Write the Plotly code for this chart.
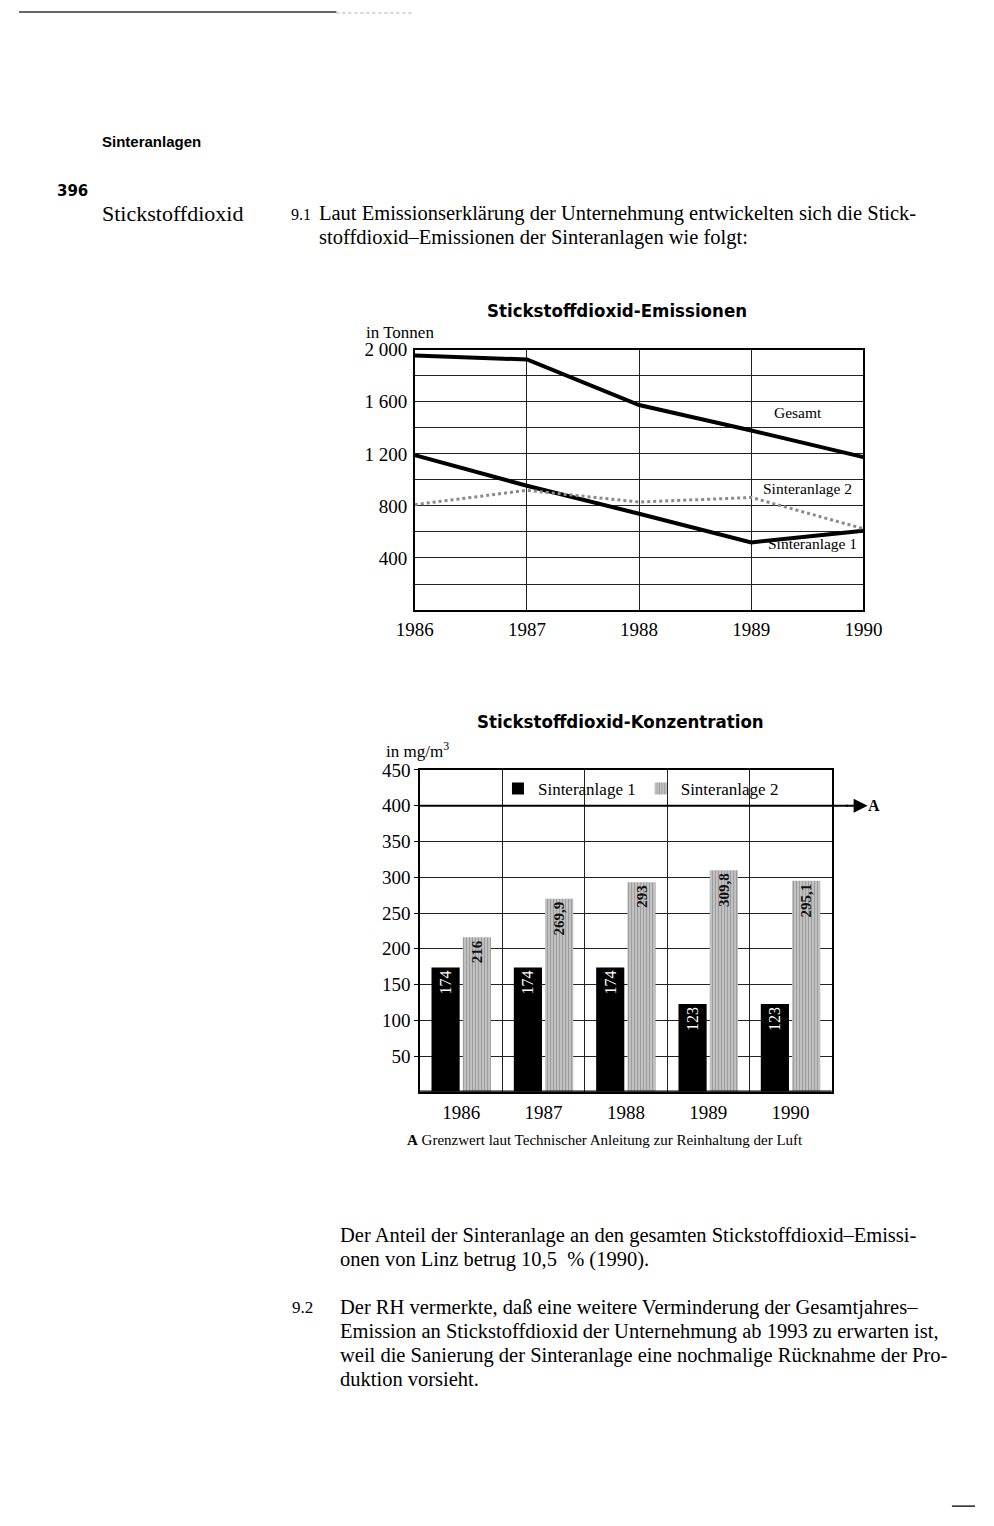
import plotly.graph_objects as go

# ---------------- data ----------------
years = [1986, 1987, 1988, 1989, 1990]
gesamt = [1955, 1925, 1575, 1380, 1175]
sinteranlage1_t = [1190, 955, 740, 520, 610]
sinteranlage2_t = [810, 920, 830, 865, 625]

year_labels = ["1986", "1987", "1988", "1989", "1990"]
sinteranlage1_c = [174, 174, 174, 123, 123]
sinteranlage2_c = [216, 269.9, 293, 309.8, 295.1]
grenzwert = 400

t_tickvals = [400, 800, 1200, 1600, 2000]
t_ticktext = ["400", "800", "1 200", "1 600", "2 000"]
c_tickvals = [50, 100, 150, 200, 250, 300, 350, 400, 450]

W, H = 994, 1526
SERIF = "Liberation Serif, Times New Roman, serif"
COND = "Liberation Sans Narrow, DejaVu Sans Condensed, Arial Narrow, sans-serif"


def px(x):
    return x / W


def py(y):
    return 1 - y / H


def fmt(v):
    return f"{v:g}".replace(".", ",")


fig = go.Figure()

# ---------------- line chart ----------------
fig.add_trace(go.Scatter(x=years, y=gesamt, mode="lines", line=dict(color="black", width=4),
                         showlegend=False, xaxis="x", yaxis="y"))
fig.add_trace(go.Scatter(x=years, y=sinteranlage1_t, mode="lines", line=dict(color="black", width=4),
                         showlegend=False, xaxis="x", yaxis="y"))
fig.add_trace(go.Scatter(x=years, y=sinteranlage2_t, mode="lines",
                         line=dict(color="#8a8a8a", width=3, dash="dot"),
                         showlegend=False, xaxis="x", yaxis="y"))

# ---------------- bar chart ----------------
fig.add_trace(go.Bar(x=year_labels, y=sinteranlage1_c, name="Sinteranlage 1",
                     marker=dict(color="black", line=dict(width=0)),
                     text=[fmt(v) for v in sinteranlage1_c], textposition="inside",
                     insidetextanchor="end", textangle=-90,
                     textfont=dict(family=SERIF, size=16, color="white"),
                     xaxis="x2", yaxis="y2"))
fig.add_trace(go.Bar(x=year_labels, y=sinteranlage2_c, name="Sinteranlage 2",
                     marker=dict(color="#c8c8c8", line=dict(width=0),
                                 pattern=dict(shape="|", fgcolor="#6e6e6e", bgcolor="#c8c8c8",
                                              size=3, solidity=0.45)),
                     text=["<b>" + fmt(v) + "</b>" for v in sinteranlage2_c], textposition="inside",
                     insidetextanchor="end", textangle=-90,
                     textfont=dict(family=SERIF, size=15, color="#111"),
                     xaxis="x2", yaxis="y2"))

axis_common = dict(showline=True, linecolor="black", mirror=True, showgrid=True,
                   gridcolor="#222", gridwidth=1, zeroline=False,
                   tickfont=dict(family=SERIF, size=19, color="black"))

fig.update_layout(
    width=W, height=H, margin=dict(l=0, r=0, t=0, b=0),
    paper_bgcolor="white", plot_bgcolor="white",
    showlegend=True,
    barmode="group", bargap=0.24, bargroupgap=0.1,
    xaxis=dict(domain=[px(411.5), px(878)], range=[1986, 1990], tickvals=years,
               ticktext=year_labels, ticks="", ticklabelstandoff=1, linewidth=1.5,
               anchor="y", **axis_common),
    yaxis=dict(domain=[py(604), py(342)], range=[0, 2000], tickvals=t_tickvals,
               ticktext=t_ticktext, ticks="", ticklabelstandoff=2, linewidth=1.5,
               minor=dict(tick0=0, dtick=200, showgrid=True, gridcolor="#222", gridwidth=1, ticks=""),
               anchor="x", **axis_common),
    xaxis2=dict(domain=[px(417), px(845)], type="category", tickson="boundaries",
                ticks="", ticklabelstandoff=3, linewidth=1.5, anchor="y2", **axis_common),
    yaxis2=dict(domain=[py(1089), py(765)], range=[0, 450], tickvals=c_tickvals,
                ticks="outside", ticklen=4, tickcolor="black", ticklabelstandoff=0,
                linewidth=1.5, anchor="x2", **axis_common),
    legend=dict(orientation="h", x=px(498), y=py(784), xanchor="left", yanchor="middle",
                bgcolor="rgba(0,0,0,0)", font=dict(family=SERIF, size=17, color="black"),
                itemwidth=30, traceorder="normal"),
)

shapes = [
    # thicker baseline of bar chart
    dict(type="line", xref="paper", yref="y2", x0=px(417), x1=px(845), y0=0, y1=0,
         line=dict(color="black", width=2.5)),
    # limit value line A
    dict(type="line", xref="paper", yref="y2", x0=px(417), x1=px(862), y0=grenzwert, y1=grenzwert,
         line=dict(color="black", width=2)),
    # scan edges
    dict(type="line", xref="paper", yref="paper", x0=0, x1=px(330), y0=py(2), y1=py(2),
         line=dict(color="#333", width=1.5)),
    dict(type="line", xref="paper", yref="paper", x0=px(330), x1=px(410), y0=py(3), y1=py(3),
         line=dict(color="#aaa", width=1, dash="dot")),
    dict(type="line", xref="paper", yref="paper", x0=px(970), x1=px(994), y0=py(1506), y1=py(1506),
         line=dict(color="#222", width=1.5)),
]
fig.update_layout(shapes=shapes)

ann = []


def text(x, y, s, size=20, family=SERIF, anchor="left", color="black"):
    ann.append(dict(x=px(x), y=py(y), xref="paper", yref="paper", text=s, showarrow=False,
                    xanchor=anchor, yanchor="middle", borderpad=0,
                    font=dict(family=family, size=size, color=color)))


# page text
text(85, 132, "<b>Sinteranlagen</b>", size=15, family="Liberation Sans, Arial, sans-serif")
text(38, 182, "<b>396</b>", size=15, family="DejaVu Sans, sans-serif")
text(85, 205, "Stickstoffdioxid", size=22)
text(282, 206, "9.1", size=16)
text(311, 205, "Laut Emissionserklärung der Unternehmung entwickelten sich die Stick-", size=20.5)
text(311, 229, "stoffdioxid–Emissionen der Sinteranlagen wie folgt:", size=20.5)

text(333, 1234, "Der Anteil der Sinteranlage an den gesamten Stickstoffdioxid–Emissi-", size=20.5)
text(333, 1258, "onen von Linz betrug 10,5  % (1990).", size=20.5)
text(283, 1306, "9.2", size=17)
text(333, 1306, "Der RH vermerkte, daß eine weitere Verminderung der Gesamtjahres–", size=20.5)
text(333, 1330, "Emission an Stickstoffdioxid der Unternehmung ab 1993 zu erwarten ist,", size=20.5)
text(333, 1354, "weil die Sanierung der Sinteranlage eine nochmalige Rücknahme der Pro-", size=20.5)
text(333, 1378, "duktion vorsieht.", size=20.5)

# chart titles and axis titles
text(622, 302, "<b>Stickstoffdioxid-Emissionen</b>", size=18.5, family=COND, anchor="center")
text(360, 325, "in Tonnen", size=17)
text(625, 716, "<b>Stickstoffdioxid-Konzentration</b>", size=18.5, family=COND, anchor="center")
text(381, 745, "in mg/m<sup>3</sup>", size=17)
text(402, 1137, "<b>A</b> Grenzwert laut Technischer Anleitung zur Reinhaltung der Luft", size=15)

# series labels in line chart
for lbl, xv, yv in [("Gesamt", 1989.42, 1519), ("Sinteranlage 2", 1989.5, 931),
                    ("Sinteranlage 1", 1989.55, 511)]:
    ann.append(dict(x=xv, y=yv, xref="x", yref="y", text=lbl, showarrow=False,
                    xanchor="center", yanchor="middle",
                    font=dict(family=SERIF, size=15.5, color="black")))

# "A" with the arrowhead pointing at it
ann.append(dict(x=px(860), y=grenzwert, xref="paper", yref="y2", ax=28, ay=0,
                axref="pixel", ayref="pixel", text="<b>A</b>", showarrow=True,
                arrowhead=2, arrowside="start", startarrowhead=2, startarrowsize=1.4,
                arrowsize=1.4, arrowwidth=2, arrowcolor="black", borderpad=0,
                font=dict(family=SERIF, size=16, color="black")))

fig.update_layout(annotations=ann)
fig.write_html("out.html",
               post_script="document.body.style.margin='0';document.body.style.padding='0';")
